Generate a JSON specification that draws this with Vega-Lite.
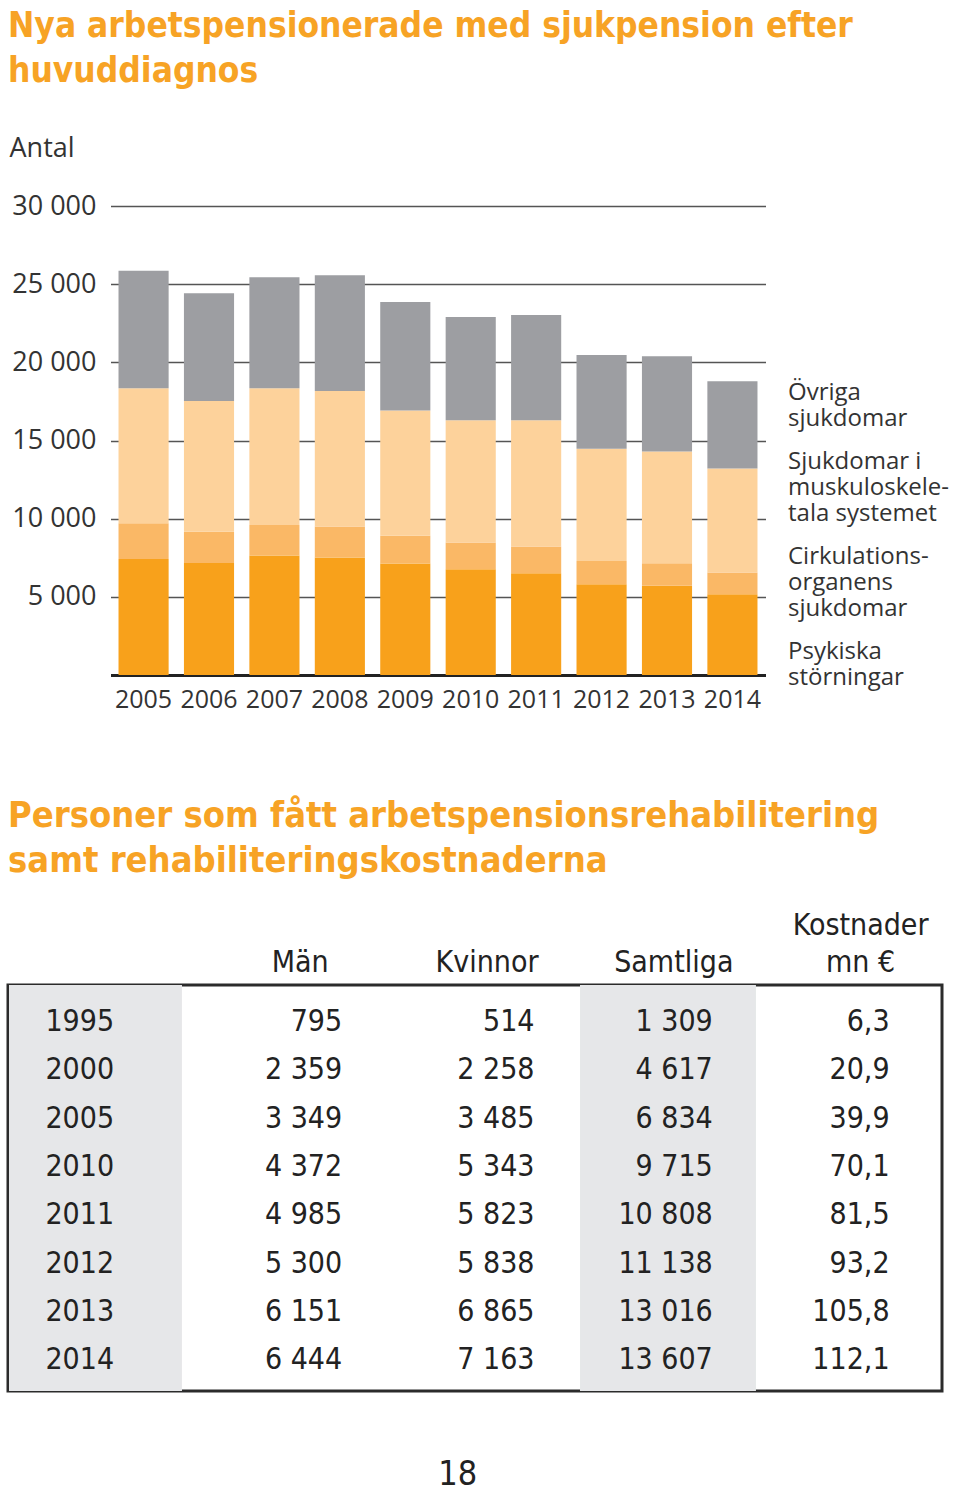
{
  "$schema": "https://vega.github.io/schema/vega-lite/v6.json",
  "padding": {"left": 6, "top": 9, "right": 5, "bottom": 5},
  "background": "white",
  "config": {
    "locale": {"number": {"decimal": ",", "thousands": " ", "grouping": [3], "currency": ["", ""]}},
    "view": {"stroke": null},
    "font": "Open Sans"
  },
  "title": {"text": "18", "orient": "bottom", "anchor": "middle", "fontSize": 34, "font": "DejaVu Sans Condensed, Roboto", "fontWeight": "normal", "color": "#222222", "offset": 65, "dx": -20},
  "vconcat": [
    {
      "width": 759,
      "height": 469,
      "title": {"text": ["Nya arbetspensionerade med sjukpension efter", "huvuddiagnos"], "anchor": "start", "frame": "bounds", "font": "DejaVu Sans Condensed, Roboto", "fontSize": 35, "fontWeight": "bold", "color": "#F7A325", "lineHeight": 45, "offset": 45},
      "data": {"values": [
        {"ar": "2005", "diagnos": "Psykiska störningar", "antal": 7414},
        {"ar": "2005", "diagnos": "Cirkulationsorganens sjukdomar", "antal": 2300},
        {"ar": "2005", "diagnos": "Sjukdomar i muskuloskeletala systemet", "antal": 8629},
        {"ar": "2005", "diagnos": "Övriga sjukdomar", "antal": 7520},
        {"ar": "2006", "diagnos": "Psykiska störningar", "antal": 7158},
        {"ar": "2006", "diagnos": "Cirkulationsorganens sjukdomar", "antal": 2003},
        {"ar": "2006", "diagnos": "Sjukdomar i muskuloskeletala systemet", "antal": 8372},
        {"ar": "2006", "diagnos": "Övriga sjukdomar", "antal": 6881},
        {"ar": "2007", "diagnos": "Psykiska störningar", "antal": 7648},
        {"ar": "2007", "diagnos": "Cirkulationsorganens sjukdomar", "antal": 1939},
        {"ar": "2007", "diagnos": "Sjukdomar i muskuloskeletala systemet", "antal": 8756},
        {"ar": "2007", "diagnos": "Övriga sjukdomar", "antal": 7094},
        {"ar": "2008", "diagnos": "Psykiska störningar", "antal": 7520},
        {"ar": "2008", "diagnos": "Cirkulationsorganens sjukdomar", "antal": 1982},
        {"ar": "2008", "diagnos": "Sjukdomar i muskuloskeletala systemet", "antal": 8670},
        {"ar": "2008", "diagnos": "Övriga sjukdomar", "antal": 7393},
        {"ar": "2009", "diagnos": "Psykiska störningar", "antal": 7137},
        {"ar": "2009", "diagnos": "Cirkulationsorganens sjukdomar", "antal": 1768},
        {"ar": "2009", "diagnos": "Sjukdomar i muskuloskeletala systemet", "antal": 8010},
        {"ar": "2009", "diagnos": "Övriga sjukdomar", "antal": 6945},
        {"ar": "2010", "diagnos": "Psykiska störningar", "antal": 6766},
        {"ar": "2010", "diagnos": "Cirkulationsorganens sjukdomar", "antal": 1702},
        {"ar": "2010", "diagnos": "Sjukdomar i muskuloskeletala systemet", "antal": 7830},
        {"ar": "2010", "diagnos": "Övriga sjukdomar", "antal": 6596},
        {"ar": "2011", "diagnos": "Psykiska störningar", "antal": 6511},
        {"ar": "2011", "diagnos": "Cirkulationsorganens sjukdomar", "antal": 1702},
        {"ar": "2011", "diagnos": "Sjukdomar i muskuloskeletala systemet", "antal": 8085},
        {"ar": "2011", "diagnos": "Övriga sjukdomar", "antal": 6723},
        {"ar": "2012", "diagnos": "Psykiska störningar", "antal": 5809},
        {"ar": "2012", "diagnos": "Cirkulationsorganens sjukdomar", "antal": 1489},
        {"ar": "2012", "diagnos": "Sjukdomar i muskuloskeletala systemet", "antal": 7170},
        {"ar": "2012", "diagnos": "Övriga sjukdomar", "antal": 6000},
        {"ar": "2013", "diagnos": "Psykiska störningar", "antal": 5702},
        {"ar": "2013", "diagnos": "Cirkulationsorganens sjukdomar", "antal": 1447},
        {"ar": "2013", "diagnos": "Sjukdomar i muskuloskeletala systemet", "antal": 7149},
        {"ar": "2013", "diagnos": "Övriga sjukdomar", "antal": 6085},
        {"ar": "2014", "diagnos": "Psykiska störningar", "antal": 5170},
        {"ar": "2014", "diagnos": "Cirkulationsorganens sjukdomar", "antal": 1383},
        {"ar": "2014", "diagnos": "Sjukdomar i muskuloskeletala systemet", "antal": 6660},
        {"ar": "2014", "diagnos": "Övriga sjukdomar", "antal": 5574}
      ]},
      "transform": [
        {"calculate": "datum.diagnos == 'Psykiska störningar' ? 0 : datum.diagnos == 'Cirkulationsorganens sjukdomar' ? 1 : datum.diagnos == 'Sjukdomar i muskuloskeletala systemet' ? 2 : 3", "as": "ordning"}
      ],
      "mark": {"type": "bar"},
      "encoding": {
        "x": {
          "field": "ar", "type": "ordinal",
          "scale": {"range": [102.5, 757.5], "paddingInner": 0.234, "paddingOuter": 0.1225},
          "axis": {"title": null, "labelAngle": 0, "labelFontSize": 25, "labelColor": "#333333", "ticks": false, "domainColor": "#222222", "domainWidth": 3, "labelPadding": 12}
        },
        "y": {
          "field": "antal", "type": "quantitative", "stack": "zero",
          "scale": {"domain": [0, 30000], "nice": false},
          "axis": {
            "title": "Antal", "values": [0, 5000, 10000, 15000, 20000, 25000, 30000],
            "labelExpr": "datum.value == 0 ? '' : format(datum.value, ',d')",
            "grid": true, "gridColor": "#555555", "gridWidth": 1.5, "ticks": false, "domain": false,
            "labelFontSize": 27, "labelPadding": -88, "labelAlign": "right", "labelColor": "#333333",
            "titleAngle": 0, "titleAlign": "left", "titleBaseline": "middle", "titleX": 1, "titleY": -58,
            "titleFontSize": 27, "titleFontWeight": "normal", "titleColor": "#333333"
          }
        },
        "color": {
          "field": "diagnos", "type": "nominal",
          "scale": {
            "domain": ["Övriga sjukdomar", "Sjukdomar i muskuloskeletala systemet", "Cirkulationsorganens sjukdomar", "Psykiska störningar"],
            "range": ["#9D9EA2", "#FDD29B", "#FAB866", "#F8A11B"]
          },
          "legend": {
            "title": null, "orient": "none", "legendX": 756, "legendY": 175,
            "symbolSize": 0, "symbolOpacity": 0, "symbolStrokeWidth": 0,
            "labelFontSize": 24, "labelLineHeight": 25, "labelColor": "#333333", "labelOffset": 0, "labelLimit": 300,
            "rowPadding": 19,
            "labelExpr": "datum.label == 'Övriga sjukdomar' ? ['Övriga', 'sjukdomar'] : datum.label == 'Sjukdomar i muskuloskeletala systemet' ? ['Sjukdomar i', 'muskuloskele-', 'tala systemet'] : datum.label == 'Cirkulationsorganens sjukdomar' ? ['Cirkulations-', 'organens', 'sjukdomar'] : ['Psykiska', 'störningar']"
          }
        },
        "order": {"field": "ordning", "type": "quantitative"}
      }
    },
    {
      "width": 934,
      "height": 406,
      "view": {"stroke": "#2B2B2B", "strokeWidth": 3},
      "title": {"text": ["Personer som fått arbetspensionsrehabilitering", "samt rehabiliteringskostnaderna"], "anchor": "start", "frame": "bounds", "font": "DejaVu Sans Condensed, Roboto", "fontSize": 36, "fontWeight": "bold", "color": "#F7A325", "lineHeight": 45, "offset": 30},
      "data": {"values": [
        {"ar": "1995", "man": 795, "kvinnor": 514, "samtliga": 1309, "kostnad": 6.3},
        {"ar": "2000", "man": 2359, "kvinnor": 2258, "samtliga": 4617, "kostnad": 20.9},
        {"ar": "2005", "man": 3349, "kvinnor": 3485, "samtliga": 6834, "kostnad": 39.9},
        {"ar": "2010", "man": 4372, "kvinnor": 5343, "samtliga": 9715, "kostnad": 70.1},
        {"ar": "2011", "man": 4985, "kvinnor": 5823, "samtliga": 10808, "kostnad": 81.5},
        {"ar": "2012", "man": 5300, "kvinnor": 5838, "samtliga": 11138, "kostnad": 93.2},
        {"ar": "2013", "man": 6151, "kvinnor": 6865, "samtliga": 13016, "kostnad": 105.8},
        {"ar": "2014", "man": 6444, "kvinnor": 7163, "samtliga": 13607, "kostnad": 112.1}
      ]},
      "layer": [
        {
          "mark": {"type": "bar", "color": "#E6E7E9", "width": {"band": 0.921}, "xOffset": -6},
          "encoding": {
            "x": {
              "datum": "År", "type": "ordinal",
              "scale": {"type": "band", "domain": ["År", "Män", "Kvinnor", "Samtliga", "Kostnader"], "paddingInner": 0, "paddingOuter": 0},
              "axis": {
                "title": null, "orient": "top", "domain": false, "ticks": false, "labelAngle": 0,
                "labelFont": "DejaVu Sans Condensed, Roboto", "labelFontSize": 30, "labelColor": "#222222", "labelLineHeight": 37,
                "labelBaseline": "alphabetic", "labelPadding": 51, "labelOffset": 12,
                "labelExpr": "datum.value == 'År' ? '' : datum.value == 'Kostnader' ? ['Kostnader', 'mn €'] : ['', datum.value]"
              }
            }
          }
        },
        {
          "mark": {"type": "bar", "color": "#E6E7E9", "width": {"band": 0.937}, "xOffset": 6},
          "encoding": {"x": {"datum": "Samtliga", "type": "ordinal"}}
        },
        {
          "mark": {"type": "text", "align": "left", "dx": -56, "dy": 3, "font": "DejaVu Sans Condensed, Roboto", "fontSize": 30, "color": "#222222"},
          "encoding": {
            "x": {"datum": "År", "type": "ordinal"},
            "y": {"field": "ar", "type": "ordinal", "axis": null, "scale": {"type": "point", "padding": 0.7}},
            "text": {"field": "ar"}
          }
        },
        {
          "mark": {"type": "text", "align": "right", "dx": 54, "dy": 3, "font": "DejaVu Sans Condensed, Roboto", "fontSize": 30, "color": "#222222"},
          "encoding": {
            "x": {"datum": "Män", "type": "ordinal"},
            "y": {"field": "ar", "type": "ordinal"},
            "text": {"field": "man", "format": ",d"}
          }
        },
        {
          "mark": {"type": "text", "align": "right", "dx": 59.5, "dy": 3, "font": "DejaVu Sans Condensed, Roboto", "fontSize": 30, "color": "#222222"},
          "encoding": {
            "x": {"datum": "Kvinnor", "type": "ordinal"},
            "y": {"field": "ar", "type": "ordinal"},
            "text": {"field": "kvinnor", "format": ",d"}
          }
        },
        {
          "mark": {"type": "text", "align": "right", "dx": 51, "dy": 3, "font": "DejaVu Sans Condensed, Roboto", "fontSize": 30, "color": "#222222"},
          "encoding": {
            "x": {"datum": "Samtliga", "type": "ordinal"},
            "y": {"field": "ar", "type": "ordinal"},
            "text": {"field": "samtliga", "format": ",d"}
          }
        },
        {
          "mark": {"type": "text", "align": "right", "dx": 41, "dy": 3, "font": "DejaVu Sans Condensed, Roboto", "fontSize": 30, "color": "#222222"},
          "encoding": {
            "x": {"datum": "Kostnader", "type": "ordinal"},
            "y": {"field": "ar", "type": "ordinal"},
            "text": {"field": "kostnad", "format": ".1f"}
          }
        }
      ]
    }
  ],
  "spacing": 84
}
